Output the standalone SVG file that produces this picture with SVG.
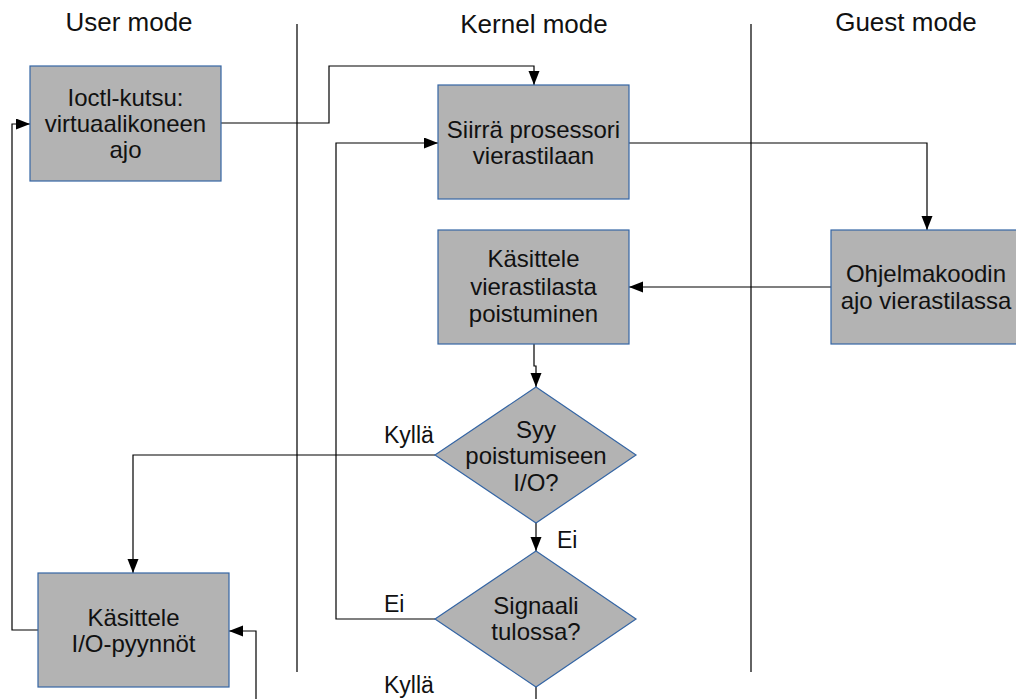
<svg xmlns="http://www.w3.org/2000/svg" width="1016" height="699" viewBox="0 0 1016 699">
  <defs>
    <marker id="arrow" markerUnits="userSpaceOnUse" markerWidth="15" markerHeight="12" refX="14" refY="5.5" orient="auto">
      <path d="M0,0 L14,5.5 L0,11 z" fill="#000"/>
    </marker>
    <style>
      text { font-family: "Liberation Sans", Arial, sans-serif; fill: #111; }
      .hdr { font-size: 26px; text-anchor: middle; }
      .lbl { font-size: 24px; text-anchor: middle; }
      .edge { font-size: 23px; }
      .shape { fill: #b3b3b3; stroke: #3465a4; stroke-width: 1.2; }
      .sep { stroke: #222; stroke-width: 1.4; fill: none; }
      .conn path { fill: none; stroke: #000; stroke-width: 1.2; marker-end: url(#arrow); }
    </style>
  </defs>

  <rect width="1016" height="699" fill="#fff"/>

  <!-- swimlane headers and separators -->
  <g id="lanes">
    <text class="hdr" x="129" y="31">User mode</text>
    <text class="hdr" x="534" y="33">Kernel mode</text>
    <text class="hdr" x="906" y="31">Guest mode</text>
    <line class="sep" x1="297" y1="24" x2="297" y2="672"/>
    <line class="sep" x1="751" y1="24" x2="751" y2="672"/>
  </g>

  <!-- connectors -->
  <g id="connectors" class="conn">
    <path d="M221,123 H329 V66 H534 V85"/>
    <path d="M629,143 H927 V230"/>
    <path d="M831,287 H629"/>
    <path d="M534,344 V366 H536 V387"/>
    <path d="M536,523 V551"/>
    <path d="M435,455 H133 V573"/>
    <path d="M435,619 H336 V143 H438"/>
    <path d="M38,630 H12 V124 H30"/>
    <path d="M536,687 V712 H256 V631 H229"/>
  </g>

  <!-- edge labels -->
  <g id="edge-labels">
    <text class="edge" x="384" y="443">Kyllä</text>
    <text class="edge" x="557" y="548">Ei</text>
    <text class="edge" x="384" y="612">Ei</text>
    <text class="edge" x="384" y="693">Kyllä</text>
  </g>

  <g id="ioctl">
    <rect class="shape" x="30" y="66" width="191" height="115"/>
    <text class="lbl" x="125.5" y="106">Ioctl-kutsu:</text>
    <text class="lbl" x="125.5" y="132">virtuaalikoneen</text>
    <text class="lbl" x="125.5" y="158">ajo</text>
  </g>

  <g id="siirra">
    <rect class="shape" x="438" y="85" width="191" height="114"/>
    <text class="lbl" x="533.5" y="138">Siirrä prosessori</text>
    <text class="lbl" x="533.5" y="164">vierastilaan</text>
  </g>

  <g id="ohjelmakoodi">
    <rect class="shape" x="831" y="230" width="191" height="114"/>
    <text class="lbl" x="926" y="282">Ohjelmakoodin</text>
    <text class="lbl" x="926" y="309">ajo vierastilassa</text>
  </g>

  <g id="kasittele-poistuminen">
    <rect class="shape" x="438" y="230" width="191" height="114"/>
    <text class="lbl" x="533.5" y="267">Käsittele</text>
    <text class="lbl" x="533.5" y="295">vierastilasta</text>
    <text class="lbl" x="533.5" y="322">poistuminen</text>
  </g>

  <g id="syy-io">
    <polygon class="shape" points="536,387 636,455 536,523 435,455"/>
    <text class="lbl" x="536" y="438">Syy</text>
    <text class="lbl" x="536" y="464">poistumiseen</text>
    <text class="lbl" x="536" y="491">I/O?</text>
  </g>

  <g id="signaali">
    <polygon class="shape" points="536,551 636,619 536,687 435,619"/>
    <text class="lbl" x="536" y="614">Signaali</text>
    <text class="lbl" x="536" y="640">tulossa?</text>
  </g>

  <g id="kasittele-io">
    <rect class="shape" x="38" y="573" width="191" height="114"/>
    <text class="lbl" x="133.5" y="626">Käsittele</text>
    <text class="lbl" x="133.5" y="652">I/O-pyynnöt</text>
  </g>
</svg>
